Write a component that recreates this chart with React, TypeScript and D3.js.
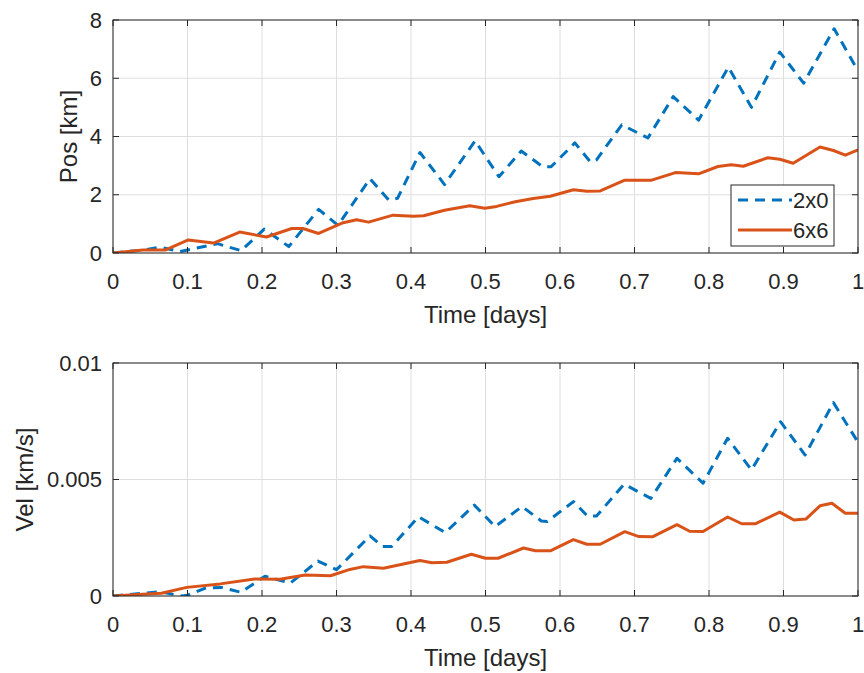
import React from "react";
import * as d3 from "d3";

// Position error, 2x0 gravity model
const posT2x0 = [0, 0.04, 0.063, 0.09, 0.1, 0.14, 0.172, 0.203, 0.236, 0.276, 0.302, 0.345, 0.37, 0.382, 0.412, 0.445, 0.486, 0.518, 0.548, 0.577, 0.588, 0.62, 0.641, 0.649, 0.683, 0.718, 0.752, 0.786, 0.826, 0.857, 0.895, 0.927, 0.968, 1.0];
const pos2x0 = [0, 0.1, 0.2, 0.05, 0.1, 0.32, 0.08, 0.82, 0.22, 1.5, 0.95, 2.55, 1.82, 1.88, 3.45, 2.35, 3.85, 2.62, 3.5, 2.96, 2.96, 3.78, 3.12, 3.2, 4.4, 3.95, 5.37, 4.56, 6.38, 5.0, 6.9, 5.83, 7.7, 6.25];

// Position error, 6x6 gravity model
const posT6x6 = [0, 0.04, 0.07, 0.101, 0.135, 0.17, 0.206, 0.24, 0.255, 0.276, 0.309, 0.327, 0.343, 0.376, 0.403, 0.417, 0.445, 0.479, 0.499, 0.515, 0.54, 0.564, 0.587, 0.618, 0.636, 0.654, 0.687, 0.723, 0.755, 0.786, 0.812, 0.83, 0.846, 0.879, 0.895, 0.913, 0.949, 0.967, 0.983, 1.0];
const pos6x6 = [0, 0.1, 0.1, 0.45, 0.34, 0.72, 0.55, 0.84, 0.84, 0.67, 1.04, 1.14, 1.06, 1.3, 1.26, 1.28, 1.47, 1.62, 1.54, 1.6, 1.76, 1.87, 1.95, 2.17, 2.12, 2.13, 2.5, 2.5, 2.76, 2.72, 2.97, 3.03, 2.98, 3.27, 3.22, 3.08, 3.64, 3.52, 3.36, 3.54];

// Velocity error, 2x0 gravity model
const velT2x0 = [0, 0.041, 0.063, 0.093, 0.1, 0.125, 0.145, 0.172, 0.204, 0.238, 0.275, 0.3, 0.345, 0.362, 0.374, 0.41, 0.446, 0.485, 0.513, 0.549, 0.575, 0.583, 0.618, 0.637, 0.649, 0.686, 0.722, 0.757, 0.792, 0.825, 0.857, 0.896, 0.929, 0.967, 1.0];
const vel2x0 = [0, 0.00012, 0.00018, 0.0, 0.00003, 0.00035, 0.00037, 0.00016, 0.00085, 0.00055, 0.0015, 0.00113, 0.00258, 0.00212, 0.00212, 0.0034, 0.00272, 0.0039, 0.00298, 0.00384, 0.00322, 0.0032, 0.00405, 0.00343, 0.00343, 0.0048, 0.00419, 0.00591, 0.00484, 0.00677, 0.00541, 0.00748, 0.00605, 0.0083, 0.0066];

// Velocity error, 6x6 gravity model
const velT6x6 = [0, 0.04, 0.065, 0.099, 0.144, 0.19, 0.224, 0.258, 0.292, 0.318, 0.336, 0.363, 0.412, 0.428, 0.448, 0.481, 0.5, 0.517, 0.551, 0.567, 0.587, 0.618, 0.636, 0.654, 0.687, 0.706, 0.724, 0.757, 0.774, 0.792, 0.825, 0.844, 0.862, 0.895, 0.914, 0.93, 0.949, 0.965, 0.983, 1.0];
const vel6x6 = [0, 0.00008, 0.00012, 0.00037, 0.00052, 0.00073, 0.00072, 0.0009, 0.00087, 0.00114, 0.00126, 0.00119, 0.00152, 0.00143, 0.00145, 0.00179, 0.00162, 0.00162, 0.00206, 0.00194, 0.00194, 0.00242, 0.00222, 0.00222, 0.00276, 0.00255, 0.00254, 0.00306, 0.00278, 0.00277, 0.00339, 0.0031, 0.0031, 0.0036, 0.00326, 0.0033, 0.00387, 0.00398, 0.00355, 0.00355];

const xTicks = [0, 0.1, 0.2, 0.3, 0.4, 0.5, 0.6, 0.7, 0.8, 0.9, 1];
const xTickLabels = ["0", "0.1", "0.2", "0.3", "0.4", "0.5", "0.6", "0.7", "0.8", "0.9", "1"];
const posTicks = [0, 2, 4, 6, 8];
const posTickLabels = ["0", "2", "4", "6", "8"];
const velTicks = [0, 0.005, 0.01];
const velTickLabels = ["0", "0.005", "0.01"];
const seriesNames = ["2x0", "6x6"];

const W = 864;
const H = 673;
const LEFT = 113;
const RIGHT = 858;
const BLUE = "#0072BD";
const ORANGE = "#D95319";
const AXIS = "#262626";
const GRID = "#dedede";
const FONT = "'Liberation Sans', Arial, Helvetica, sans-serif";
const FS = 22; // tick labels and legend
const FS_LABEL = 24; // axis titles

type PanelProps = {
  id: string;
  top: number;
  bottom: number;
  yMax: number;
  yTicks: number[];
  yTickLabels: string[];
  yLabel: string;
  yLabelX: number;
  t1: number[];
  v1: number[];
  t2: number[];
  v2: number[];
  legend?: boolean;
};

function Panel(p: PanelProps) {
  const x = d3.scaleLinear().domain([0, 1]).range([LEFT, RIGHT]);
  const y = d3.scaleLinear().domain([0, p.yMax]).range([p.bottom, p.top]);
  const line = (ts: number[], vs: number[]) =>
    d3.line<number>().x((_, i) => x(ts[i])).y((v) => y(v))(vs) || "";
  const tick = 6;
  const midX = (LEFT + RIGHT) / 2;
  const midY = (p.top + p.bottom) / 2;
  return (
    <g>
      <defs>
        <clipPath id={p.id}>
          <rect x={LEFT} y={p.top} width={RIGHT - LEFT} height={p.bottom - p.top} />
        </clipPath>
      </defs>
      <rect x={LEFT} y={p.top} width={RIGHT - LEFT} height={p.bottom - p.top} fill="#fff" />
      {/* grid */}
      {xTicks.map((t) => (
        <line key={"gx" + t} x1={x(t)} x2={x(t)} y1={p.top} y2={p.bottom} stroke={GRID} strokeWidth={1} />
      ))}
      {p.yTicks.map((t) => (
        <line key={"gy" + t} x1={LEFT} x2={RIGHT} y1={y(t)} y2={y(t)} stroke={GRID} strokeWidth={1} />
      ))}
      {/* series */}
      <g clipPath={`url(#${p.id})`}>
        <path d={line(p.t1, p.v1)} fill="none" stroke={BLUE} strokeWidth={3} strokeDasharray="10,7" strokeLinejoin="round" />
        <path d={line(p.t2, p.v2)} fill="none" stroke={ORANGE} strokeWidth={3} strokeLinejoin="round" />
      </g>
      {/* box and inward ticks */}
      <rect x={LEFT} y={p.top} width={RIGHT - LEFT} height={p.bottom - p.top} fill="none" stroke={AXIS} strokeWidth={1} />
      {xTicks.map((t) => (
        <g key={"tx" + t}>
          <line x1={x(t)} x2={x(t)} y1={p.bottom} y2={p.bottom - tick} stroke={AXIS} />
          <line x1={x(t)} x2={x(t)} y1={p.top} y2={p.top + tick} stroke={AXIS} />
        </g>
      ))}
      {p.yTicks.map((t) => (
        <g key={"ty" + t}>
          <line x1={LEFT} x2={LEFT + tick} y1={y(t)} y2={y(t)} stroke={AXIS} />
          <line x1={RIGHT} x2={RIGHT - tick} y1={y(t)} y2={y(t)} stroke={AXIS} />
        </g>
      ))}
      {/* tick labels */}
      {xTicks.map((t, i) => (
        <text key={"lx" + t} x={x(t)} y={p.bottom + 28} dy="0.35em" textAnchor="middle" fontSize={FS} fill={AXIS} fontFamily={FONT}>
          {xTickLabels[i]}
        </text>
      ))}
      {p.yTicks.map((t, i) => (
        <text key={"ly" + t} x={LEFT - 11} y={y(t)} dy="0.35em" textAnchor="end" fontSize={FS} fill={AXIS} fontFamily={FONT}>
          {p.yTickLabels[i]}
        </text>
      ))}
      {/* axis titles */}
      <text x={midX} y={p.bottom + 62} dy="0.35em" textAnchor="middle" fontSize={FS_LABEL} fill={AXIS} fontFamily={FONT}>
        Time [days]
      </text>
      <text
        transform={`translate(${p.yLabelX},${midY}) rotate(-90)`}
        dy="0.35em"
        textAnchor="middle"
        fontSize={FS_LABEL}
        fill={AXIS}
        fontFamily={FONT}
      >
        {p.yLabel}
      </text>
      {p.legend && (
        <g>
          <rect x={731} y={185} width={103} height={61} fill="#fff" stroke={AXIS} strokeWidth={1} />
          <line x1={738} x2={792} y1={200} y2={200} stroke={BLUE} strokeWidth={3} strokeDasharray="10,7" />
          <line x1={738} x2={792} y1={230} y2={230} stroke={ORANGE} strokeWidth={3} />
          <text x={793} y={200} dy="0.35em" fontSize={FS} fill={AXIS} fontFamily={FONT}>
            {seriesNames[0]}
          </text>
          <text x={793} y={230} dy="0.35em" fontSize={FS} fill={AXIS} fontFamily={FONT}>
            {seriesNames[1]}
          </text>
        </g>
      )}
    </g>
  );
}

export default function App() {
  return (
    <div style={{ position: "absolute", left: 0, top: 0 }}>
      <svg width={W} height={H} style={{ display: "block", background: "#fff" }}>
        <Panel
          id="clipPos"
          top={20}
          bottom={253}
          yMax={8}
          yTicks={posTicks}
          yTickLabels={posTickLabels}
          yLabel="Pos [km]"
          yLabelX={69}
          t1={posT2x0}
          v1={pos2x0}
          t2={posT6x6}
          v2={pos6x6}
          legend
        />
        <Panel
          id="clipVel"
          top={363}
          bottom={596}
          yMax={0.01}
          yTicks={velTicks}
          yTickLabels={velTickLabels}
          yLabel="Vel [km/s]"
          yLabelX={25}
          t1={velT2x0}
          v1={vel2x0}
          t2={velT6x6}
          v2={vel6x6}
        />
      </svg>
    </div>
  );
}
